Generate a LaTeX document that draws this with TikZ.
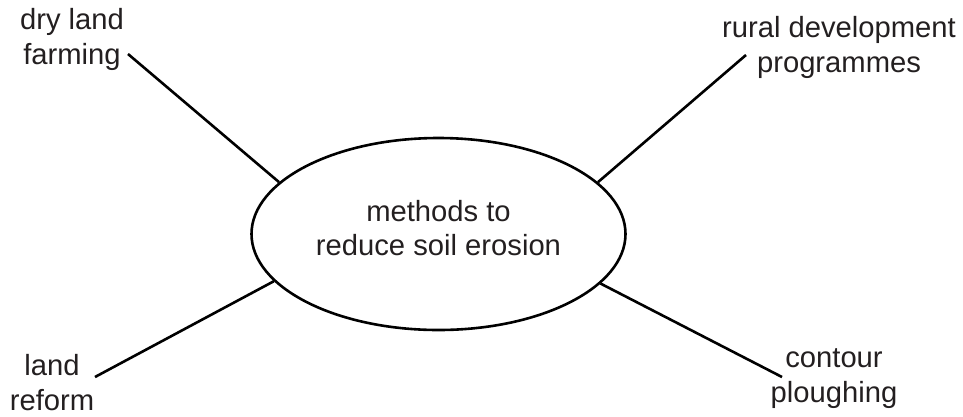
\documentclass[tikz,border=0pt]{standalone}
\usepackage{fontspec}
\setmainfont{Liberation Sans}
\usetikzlibrary{shapes.geometric}
\definecolor{inkgray}{RGB}{35,31,32}

\begin{document}
\begin{tikzpicture}[x=1pt,y=-1pt,line width=2.6pt,
  lbl/.style={text=inkgray,align=center,anchor=base,inner sep=0pt,font=\fontsize{29.2}{34.5}\selectfont}]
\useasboundingbox (0,0) rectangle (963,416);

\node[draw,ellipse,minimum width=374pt,minimum height=192pt,inner sep=0pt] (hub) at (438.5,234) {};
\node[lbl] (hubtext) at (438.5,255.7) {methods to\\reduce soil erosion};

\node[lbl] (dry) at (72,64) {dry land\\farming};
\node[lbl] (rural) at (839,72) {rural development\\programmes};
\node[lbl] (reform) at (52,410) {land\\reform};
\node[lbl] (contour) at (834,402) {contour\\ploughing};

\coordinate (dryend) at (128,54);
\coordinate (ruralend) at (746,55);
\coordinate (reformend) at (95,377);
\coordinate (contourend) at (782,377);

\draw (dryend) -- (hub.162.3);
\draw (ruralend) -- (hub.18.3);
\draw (reformend) -- (hub.196.7);
\draw (contourend) -- (hub.343.3);
\end{tikzpicture}
\end{document}
